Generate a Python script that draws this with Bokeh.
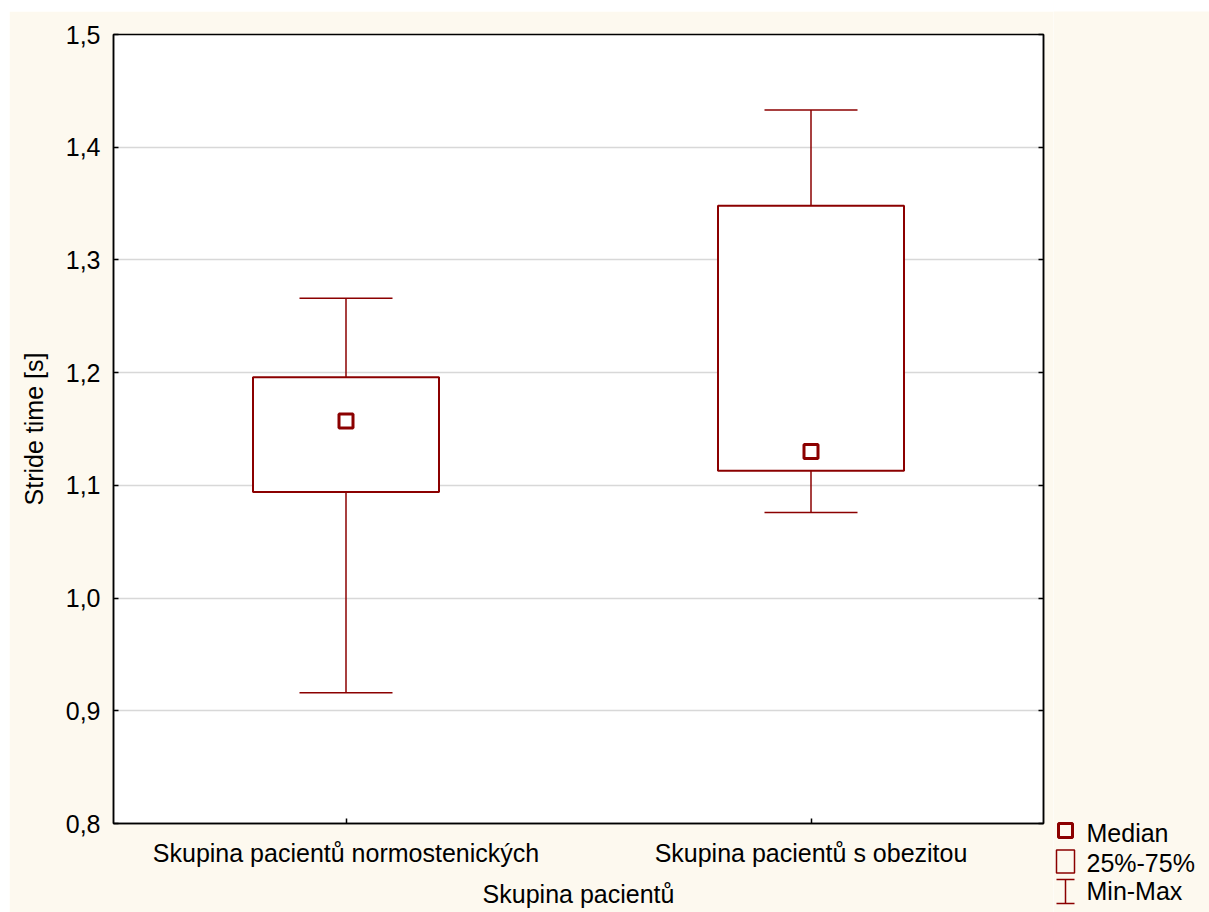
from bokeh.plotting import figure
from bokeh.models import (FactorRange, Range1d, FixedTicker, LinearAxis,
                          CustomJSTickFormatter, ColumnDataSource)
from bokeh.layouts import row, column
from bokeh.transform import dodge
from bokeh.embed import file_html
from bokeh.resources import INLINE
from bokeh.core.properties import value

# ---- data ----
groups = ["Skupina pacientů normostenických", "Skupina pacientů s obezitou"]
minimum = [0.916, 1.076]
q1 = [1.094, 1.113]
median = [1.157, 1.130]
q3 = [1.196, 1.348]
maximum = [1.266, 1.433]
y_ticks = [0.8, 0.9, 1.0, 1.1, 1.2, 1.3, 1.4, 1.5]
y_label = "Stride time [s]"
x_label = "Skupina pacientů"
legend_labels = ["Median", "25%-75%", "Min-Max"]

# ---- style ----
FONT = "Liberation Sans"
FS = "25px"
RED = "#8B0000"
CREAM = "#FDF9EF"
GRID = "#D8D8D8"

src = ColumnDataSource(dict(g=groups, mn=minimum, q1=q1, md=median, q3=q3, mx=maximum))

p = figure(x_range=FactorRange(*groups, range_padding=0),
           y_range=Range1d(0.8, 1.5),
           width=1044, height=901,
           output_backend="svg", toolbar_location=None,
           min_border_left=104, min_border_right=10,
           min_border_top=23, min_border_bottom=89)
p.background_fill_color = "white"
p.border_fill_color = CREAM
p.outline_line_color = "black"
p.outline_line_width = 1.5

# axes
p.yaxis.ticker = FixedTicker(ticks=y_ticks)
p.yaxis.formatter = CustomJSTickFormatter(code="return tick.toFixed(1).replace('.', ',');")
p.yaxis.axis_label = y_label
for ax in (p.xaxis[0], p.yaxis[0]):
    ax.axis_line_color = "black"
    ax.axis_line_width = 1.5
    ax.major_tick_in = 5
    ax.major_tick_out = 0
    ax.minor_tick_in = 0
    ax.minor_tick_out = 0
    ax.major_tick_line_color = "black"
    ax.major_tick_line_width = 1.5
    ax.major_label_text_font = FONT
    ax.major_label_text_font_size = FS
    ax.major_label_text_color = "black"
    ax.axis_label_text_font = FONT
    ax.axis_label_text_font_size = FS
    ax.axis_label_text_font_style = "normal"
    ax.axis_label_text_color = "black"
p.yaxis.major_label_standoff = 13
p.yaxis.axis_label_standoff = 15
p.xaxis.axis_label = x_label
p.xaxis.major_label_standoff = 15
p.xaxis.axis_label_standoff = 10

right_axis = LinearAxis(ticker=FixedTicker(ticks=y_ticks),
                        formatter=CustomJSTickFormatter(code="return '';"),
                        major_label_standoff=0,
                        major_tick_in=5, major_tick_out=0,
                        minor_tick_in=0, minor_tick_out=0,
                        axis_line_color="black", axis_line_width=1.5,
                        major_tick_line_width=1.5)
p.add_layout(right_axis, "right")

p.xgrid.grid_line_color = None
p.ygrid.ticker = FixedTicker(ticks=y_ticks[1:-1])
p.ygrid.grid_line_color = GRID
p.ygrid.grid_line_width = 1.5

# whiskers
p.segment(x0="g", y0="q3", x1="g", y1="mx", source=src, line_color=RED, line_width=1.5)
p.segment(x0="g", y0="mn", x1="g", y1="q1", source=src, line_color=RED, line_width=1.5)
p.segment(x0=dodge("g", -0.1, range=p.x_range), y0="mx",
          x1=dodge("g", 0.1, range=p.x_range), y1="mx",
          source=src, line_color=RED, line_width=1.5)
p.segment(x0=dodge("g", -0.1, range=p.x_range), y0="mn",
          x1=dodge("g", 0.1, range=p.x_range), y1="mn",
          source=src, line_color=RED, line_width=1.5)
# boxes
p.vbar(x="g", bottom="q1", top="q3", width=0.4, source=src,
       fill_color="white", line_color=RED, line_width=2)
# medians
p.scatter(x="g", y="md", source=src, marker="square", size=14,
          fill_color="white", line_color=RED, line_width=3)

# ---- legend panel ----
LW, LH = 156, 901
lg = figure(width=LW, height=LH, x_range=Range1d(0, LW), y_range=Range1d(LH, 0),
            output_backend="svg", toolbar_location=None,
            min_border=0, min_border_left=0, min_border_right=0,
            min_border_top=0, min_border_bottom=0)
lg.axis.visible = False
lg.grid.visible = False
lg.outline_line_color = None
lg.background_fill_color = CREAM
lg.border_fill_color = CREAM

lg.scatter(x=[12], y=[819], marker="square", size=14, fill_color=CREAM,
           line_color=RED, line_width=3)
lg.rect(x=[12], y=[850], width=18, height=23, fill_color=CREAM,
        line_color=RED, line_width=1.5)
lg.segment(x0=[12, 3, 3], y0=[868, 868, 892], x1=[12, 21, 21], y1=[892, 868, 892],
           line_color=RED, line_width=1.5)
lg.text(x=[33, 33, 33], y=[821, 851, 879], text=legend_labels,
        text_font=value(FONT), text_font_size=FS, text_color="black",
        text_baseline="middle", text_align="left")

layout = row(p, column(lg, spacing=0), spacing=0, margin=(11, 0, 0, 9))
open("out.html", "w").write(file_html(layout, INLINE))
